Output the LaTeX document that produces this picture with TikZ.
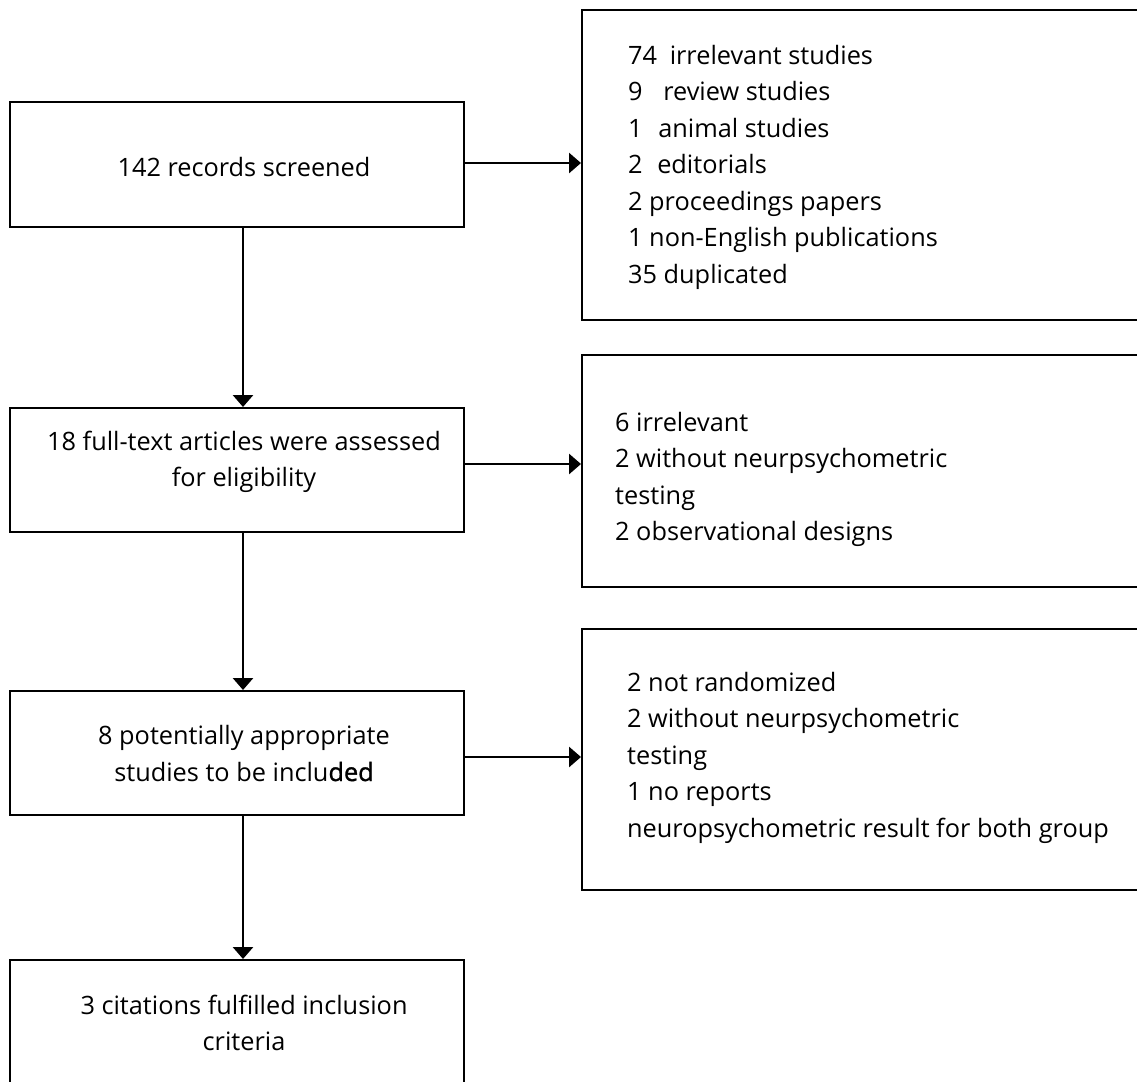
\documentclass[tikz,border=0pt]{standalone}
\usepackage{fontspec}
\setmainfont{Open Sans}
\newfontfamily\heavyfont[FakeBold=1.2]{Open Sans}
\usetikzlibrary{arrows.meta}
\begin{document}
\begin{tikzpicture}[x=1pt,y=-1pt,
  box/.style={draw,line width=2.2pt,rectangle,inner sep=0pt,anchor=north west},
  conn/.style={line width=2.8pt,-{Triangle[length=12pt,width=20pt]}},
  txt/.style={inner sep=0pt,font=\fontsize{25.3}{36.5}\selectfont}]
\useasboundingbox (0,0) rectangle (1137,1081);
\clip (0,0) rectangle (1137,1081);
\fill[white] (0,0) rectangle (1137,1081);
% left column boxes
\node[box,minimum width=454pt,minimum height=125pt] (b1) at (9,101) {};
\node[box,minimum width=454pt,minimum height=124pt] (b2) at (9,407) {};
\node[box,minimum width=454pt,minimum height=124pt] (b3) at (9,690) {};
\node[box,minimum width=454pt,minimum height=200pt] (b4) at (9,959) {};
% right column boxes
\node[box,minimum width=580pt,minimum height=310pt] (r1) at (581,9) {};
\node[box,minimum width=580pt,minimum height=232pt] (r2) at (581,354) {};
\node[box,minimum width=580pt,minimum height=261pt] (r3) at (581,628) {};
% texts (anchor base = baseline of last line)
\node[txt,anchor=base] (t1) at (244,176) {142 records screened};
\node[txt,anchor=base,align=center] (t2) at (244,486.5) {18 full-text articles were assessed\\for eligibility};
\node[txt,anchor=base,align=center] (t3) at (244,781) {8 potentially appropriate\\studies to be inclu{\heavyfont ded}};
\node[txt,anchor=base,align=center] (t4) at (244,1050.5) {3 citations fulfilled inclusion\\criteria};
\node[txt,anchor=base west,align=left] (u1) at (628,283) {74\hspace{12.6pt}irrelevant studies\\9\hspace{20.6pt}review studies\\1\hspace{15.6pt}animal studies\\2\hspace{14.6pt}editorials\\2 proceedings papers\\1 non-English publications\\35 duplicated};
\node[txt,anchor=base west,align=left] (u2) at (615,540.5) {6 irrelevant\\2 without neurpsychometric\\testing\\2 observational designs};
\node[txt,anchor=base west,align=left] (u3) at (627,837) {2 not randomized\\2 without neurpsychometric\\testing\\1 no reports\\neuropsychometric result for both group};
% connectors
\coordinate (v) at (243,0);
\coordinate (h1) at (0,163);
\coordinate (h2) at (0,464);
\coordinate (h3) at (0,757);
\draw[conn] (b1.south -| v) -- (b2.north -| v);
\draw[conn] (b2.south -| v) -- (b3.north -| v);
\draw[conn] (b3.south -| v) -- (b4.north -| v);
\draw[conn] (b1.east |- h1) -- (r1.west |- h1);
\draw[conn] (b2.east |- h2) -- (r2.west |- h2);
\draw[conn] (b3.east |- h3) -- (r3.west |- h3);
\end{tikzpicture}
\end{document}
